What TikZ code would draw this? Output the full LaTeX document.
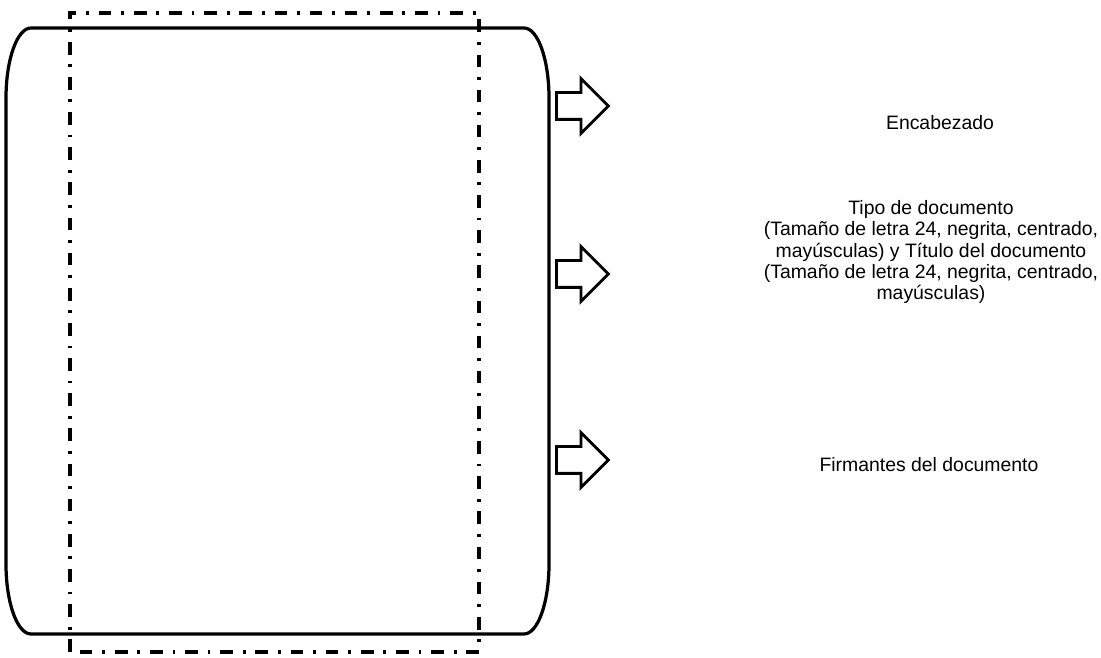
\documentclass[tikz,border=0pt]{standalone}
\usepackage{fontspec}
\setmainfont{Liberation Sans}
\usetikzlibrary{shapes.arrows,positioning}

\begin{document}
\begin{tikzpicture}[
  every node/.style={font=\fontsize{13.8}{15.1}\selectfont, align=center},
  hoja/.style={draw, line width=2.3pt},
  margen/.style={draw, line width=2.6pt, dash pattern=on 9pt off 7pt on 2pt off 7pt},
  flecha/.style={draw, line width=2pt, single arrow, single arrow head extend=0.35cm,
    minimum height=1.3cm, inner xsep=0pt, inner ysep=0.3cm, anchor=west}
]
\useasboundingbox (0,0) rectangle (27.525,16.45);
\draw[hoja] (0.775,15.75) -- (13.1,15.75)
  arc[start angle=90, end angle=0, x radius=0.625, y radius=1.75] -- (13.725,2.35)
  arc[start angle=0, end angle=-90, x radius=0.625, y radius=1.75] -- (0.775,0.6)
  arc[start angle=270, end angle=180, x radius=0.625, y radius=1.75] -- (0.15,14)
  arc[start angle=180, end angle=90, x radius=0.625, y radius=1.75] -- cycle;
\draw[margen] (1.75,0.15) rectangle (11.975,16.125);
\node[flecha] (f1) at (13.875,13.8) {};
\node[flecha] (f2) at (13.875,9.6) {};
\node[flecha] (f3) at (13.875,4.95) {};
\node (enc) at (23.5,13.375) {Encabezado};
\node (tipo) at (23.275,10.15) {Tipo de documento\\(Tamaño de letra 24, negrita, centrado,\\mayúsculas) y Título del documento\\(Tamaño de letra 24, negrita, centrado,\\mayúsculas)};
\node (firm) at (23.225,4.825) {Firmantes del documento};
\end{tikzpicture}
\end{document}
